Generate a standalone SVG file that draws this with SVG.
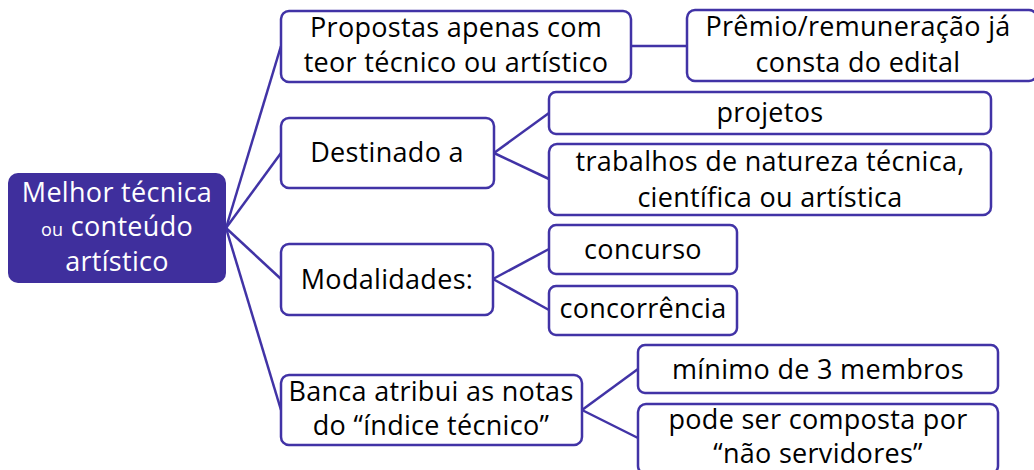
<svg xmlns="http://www.w3.org/2000/svg" width="1034" height="470" viewBox="0 0 1034 470">
<style>
.box{fill:#ffffff;stroke:#4133a6;stroke-width:2.5}
.root{fill:#3f2f9d;stroke:none}
.t{font-family:"Open Sans","Liberation Sans",sans-serif;font-size:27px;letter-spacing:0.3px;fill:#000;text-anchor:middle}
.w{font-family:"Open Sans","Liberation Sans",sans-serif;font-size:27px;letter-spacing:0.3px;fill:#fff;text-anchor:middle}
.small{font-size:18px}
.c{fill:none;stroke:#4133a6;stroke-width:2.5}
</style>
<rect width="1034" height="470" fill="#fff"/>
<g id="connectors">
<line class="c" x1="226" y1="228" x2="281" y2="46"/>
<line class="c" x1="226" y1="228" x2="281" y2="153"/>
<line class="c" x1="226" y1="228" x2="281" y2="279"/>
<line class="c" x1="226" y1="228" x2="281" y2="410"/>
<line class="c" x1="631" y1="46" x2="687" y2="46"/>
<line class="c" x1="494" y1="153" x2="549" y2="113"/>
<line class="c" x1="494" y1="153" x2="549" y2="179"/>
<line class="c" x1="493" y1="279" x2="549" y2="249"/>
<line class="c" x1="493" y1="279" x2="549" y2="310"/>
<line class="c" x1="582" y1="410" x2="638" y2="369"/>
<line class="c" x1="582" y1="410" x2="638" y2="438"/>
</g>
<g id="root">
<rect class="root" x="8" y="173" width="218" height="110" rx="10"/>
<text class="w" x="117" y="202">Melhor técnica</text>
<text class="w" x="117" y="236"><tspan class="small">ou</tspan> conteúdo</text>
<text class="w" x="117" y="271">artístico</text>
</g>
<g id="propostas">
<rect class="box" x="281" y="11" width="350" height="71" rx="8"/>
<text class="t" x="456" y="37">Propostas apenas com</text>
<text class="t" x="456" y="72">teor técnico ou artístico</text>
</g>
<g id="premio">
<rect class="box" x="687" y="10" width="350" height="71" rx="8"/>
<text class="t" x="858" y="36">Prêmio/remuneração já</text>
<text class="t" x="858" y="72">consta do edital</text>
</g>
<g id="destinado">
<rect class="box" x="281" y="118" width="213" height="70" rx="8"/>
<text class="t" x="387" y="162">Destinado a</text>
</g>
<g id="projetos">
<rect class="box" x="549" y="92" width="442" height="42" rx="7"/>
<text class="t" x="770" y="122">projetos</text>
</g>
<g id="trabalhos">
<rect class="box" x="549" y="144" width="442" height="71" rx="8"/>
<text class="t" x="770" y="171">trabalhos de natureza técnica,</text>
<text class="t" x="770" y="207">científica ou artística</text>
</g>
<g id="modalidades">
<rect class="box" x="281" y="244" width="212" height="71" rx="8"/>
<text class="t" x="387" y="289">Modalidades:</text>
</g>
<g id="concurso">
<rect class="box" x="549" y="225" width="188" height="49" rx="7"/>
<text class="t" x="643" y="259">concurso</text>
</g>
<g id="concorrencia">
<rect class="box" x="549" y="286" width="188" height="49" rx="7"/>
<text class="t" x="643" y="318">concorrência</text>
</g>
<g id="banca">
<rect class="box" x="281" y="375" width="301" height="70" rx="8"/>
<text class="t" x="431" y="401">Banca atribui as notas</text>
<text class="t" x="431" y="435">do “índice técnico”</text>
</g>
<g id="minimo">
<rect class="box" x="638" y="345" width="360" height="48" rx="7"/>
<text class="t" x="818" y="379">mínimo de 3 membros</text>
</g>
<g id="pode">
<rect class="box" x="638" y="404" width="360" height="70" rx="8"/>
<text class="t" x="818" y="429">pode ser composta por</text>
<text class="t" x="818" y="463">“não servidores”</text>
</g>
</svg>
